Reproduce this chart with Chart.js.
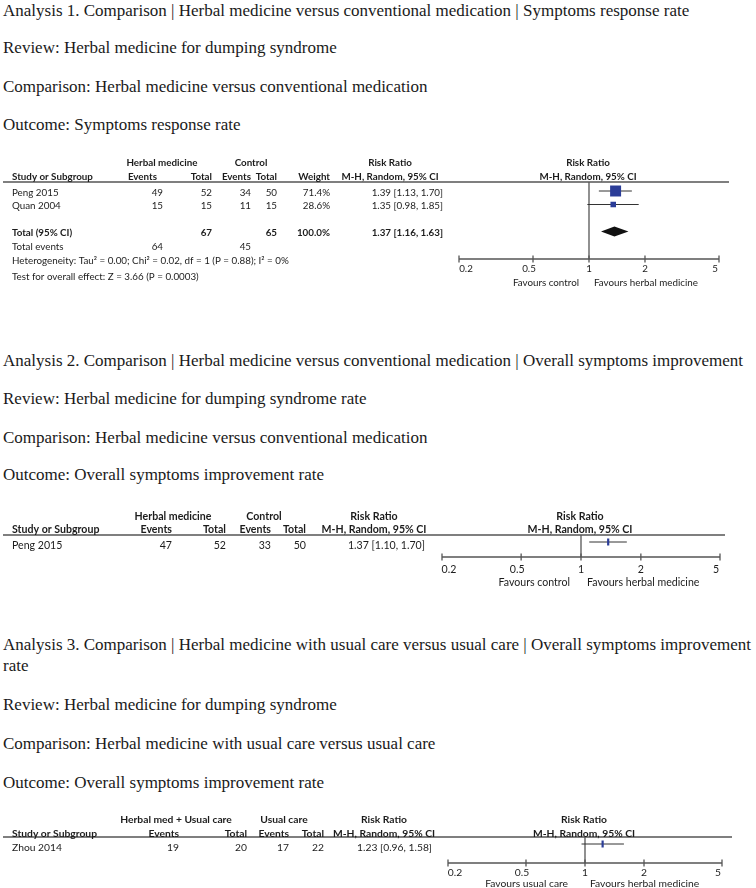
<!DOCTYPE html>
<html>
<head>
<meta charset="utf-8">
<title>Herbal medicine for dumping syndrome - forest plots</title>
<script src="https://cdn.jsdelivr.net/npm/chart.js@4.4.1/dist/chart.umd.min.js"></script>
<style>
  body { margin: 0; background: #fff; }
  #page { position: relative; width: 756px; height: 888px; overflow: hidden; }
  .t { position: absolute; left: 3px; font-family: "Liberation Serif", "Times New Roman", serif; font-size: 17px; line-height: 21px; color: #1a1a1a; white-space: nowrap; }
  canvas { position: absolute; left: 0; }
</style>
</head>
<body>
<div id="page">
  <div class="t" style="top:0px">Analysis 1. Comparison | Herbal medicine versus conventional medication | Symptoms response rate</div>
  <div class="t" style="top:37px">Review: Herbal medicine for dumping syndrome</div>
  <div class="t" style="top:76px">Comparison: Herbal medicine versus conventional medication</div>
  <div class="t" style="top:114px">Outcome: Symptoms response rate</div>
  <canvas id="c1" width="756" height="140" style="top:150px"></canvas>

  <div class="t" style="top:350px">Analysis 2. Comparison | Herbal medicine versus conventional medication | Overall symptoms improvement</div>
  <div class="t" style="top:388px">Review: Herbal medicine for dumping syndrome rate</div>
  <div class="t" style="top:427px">Comparison: Herbal medicine versus conventional medication</div>
  <div class="t" style="top:464px">Outcome: Overall symptoms improvement rate</div>
  <canvas id="c2" width="756" height="95" style="top:505px"></canvas>

  <div class="t" style="top:634px">Analysis 3. Comparison | Herbal medicine with usual care versus usual care | Overall symptoms improvement<br>rate</div>
  <div class="t" style="top:694px">Review: Herbal medicine for dumping syndrome</div>
  <div class="t" style="top:733px">Comparison: Herbal medicine with usual care versus usual care</div>
  <div class="t" style="top:772px">Outcome: Overall symptoms improvement rate</div>
  <canvas id="c3" width="756" height="82" style="top:806px"></canvas>
</div>

<script>
var tickValues = [0.2, 0.5, 1, 2, 5];
var tickLabels = ['0.2', '0.5', '1', '2', '5'];

// Analysis 1 - symptoms response rate
var studies1 = ['Peng 2015', 'Quan 2004'];
var expEvents1 = [49, 15];
var expTotal1 = [52, 15];
var ctlEvents1 = [34, 11];
var ctlTotal1 = [50, 15];
var weights1 = [71.4, 28.6];
var rr1 = [1.39, 1.35];
var lower1 = [1.13, 0.98];
var upper1 = [1.70, 1.85];
var pooled1 = [1.37, 1.16, 1.63];
var groupTotals1 = [67, 65];
var groupEvents1 = [64, 45];
var groups1 = ['Herbal medicine', 'Control'];
var favours1 = ['Favours control', 'Favours herbal medicine'];
var notes1 = ['Heterogeneity: Tau\u00b2 = 0.00; Chi\u00b2 = 0.02, df = 1 (P = 0.88); I\u00b2 = 0%',
              'Test for overall effect: Z = 3.66 (P = 0.0003)'];

// Analysis 2 - overall symptoms improvement
var studies2 = ['Peng 2015'];
var expEvents2 = [47];
var expTotal2 = [52];
var ctlEvents2 = [33];
var ctlTotal2 = [50];
var rr2 = [1.37];
var lower2 = [1.10];
var upper2 = [1.70];
var groups2 = ['Herbal medicine', 'Control'];
var favours2 = ['Favours control', 'Favours herbal medicine'];

// Analysis 3 - herbal medicine with usual care
var studies3 = ['Zhou 2014'];
var expEvents3 = [19];
var expTotal3 = [20];
var ctlEvents3 = [17];
var ctlTotal3 = [22];
var rr3 = [1.23];
var lower3 = [0.96];
var upper3 = [1.58];
var groups3 = ['Herbal med + Usual care', 'Usual care'];
var favours3 = ['Favours usual care', 'Favours herbal medicine'];

var blue = '#2b3d98';
var ink = '#1c1c1c';
var rule = '#555555';
var tickShift = [7, -4, 0, 0, -4];

function line(ctx, ax, ay, bx, by) {
  ctx.beginPath();
  ctx.moveTo(ax, ay);
  ctx.lineTo(bx, by);
  ctx.stroke();
}

function txt(ctx, s, x, y, align, bold, size) {
  ctx.font = (bold ? 'bold ' : '') + size + 'px Lato, "Noto Sans", sans-serif';
  ctx.textAlign = align;
  ctx.fillText(s, x, y);
}

function ci(r, lo, hi) {
  return r.toFixed(2) + ' [' + lo.toFixed(2) + ', ' + hi.toFixed(2) + ']';
}

function forestPlugin(sec, d) {
  return {
    id: 'forest_' + sec.canvas,
    beforeDatasetsDraw: function(chart) {
      var ctx = chart.ctx, x = chart.scales.x, T = sec.top;
      var px1 = x.getPixelForValue(1);
      ctx.save();
      ctx.strokeStyle = rule;
      ctx.lineWidth = 1.3;
      line(ctx, 3, sec.rule - T, sec.ruleEnd, sec.rule - T);
      line(ctx, px1, sec.rule - T, px1, sec.axis - T);
      line(ctx, x.getPixelForValue(tickValues[0]), sec.axis - T,
           x.getPixelForValue(tickValues[tickValues.length - 1]), sec.axis - T);
      tickValues.forEach(function(v) {
        var p = x.getPixelForValue(v);
        line(ctx, p, sec.axis - T - 3.5, p, sec.axis - T + 3.5);
      });
      ctx.restore();
    },
    afterDatasetsDraw: function(chart) {
      var ctx = chart.ctx, x = chart.scales.x, y = chart.scales.y, T = sec.top, f = sec.font;
      var n = d.studies.length;
      var px1 = x.getPixelForValue(1);
      ctx.save();

      // pooled diamond
      if (d.pooled) {
        var py = y.getPixelForValue(n + 1);
        ctx.fillStyle = '#111';
        ctx.beginPath();
        ctx.moveTo(x.getPixelForValue(d.pooled[1]), py);
        ctx.lineTo(x.getPixelForValue(d.pooled[0]), py - 5);
        ctx.lineTo(x.getPixelForValue(d.pooled[2]), py);
        ctx.lineTo(x.getPixelForValue(d.pooled[0]), py + 5);
        ctx.closePath();
        ctx.fill();
      }

      ctx.fillStyle = ink;
      ctx.textBaseline = 'middle';

      // headers
      txt(ctx, d.groups[0], sec.groupCx[0], sec.head1 - T, 'center', true, f);
      txt(ctx, d.groups[1], sec.groupCx[1], sec.head1 - T, 'center', true, f);
      txt(ctx, 'Risk Ratio', sec.rrHeadCx, sec.head1 - T, 'center', true, f);
      txt(ctx, 'Risk Ratio', px1 - 1, sec.head1 - T, 'center', true, f);
      txt(ctx, 'Study or Subgroup', sec.studyX, sec.head2 - T, 'left', true, f);
      txt(ctx, 'Events', sec.firstHeadRight || sec.cols[0], sec.head2 - T, 'right', true, f);
      txt(ctx, 'Total', sec.cols[1], sec.head2 - T, 'right', true, f);
      txt(ctx, 'Events', sec.cols[2], sec.head2 - T, 'right', true, f);
      txt(ctx, 'Total', sec.cols[3], sec.head2 - T, 'right', true, f);
      if (d.weights) txt(ctx, 'Weight', sec.cols[4], sec.head2 - T, 'right', true, f);
      txt(ctx, 'M-H, Random, 95% CI', sec.rrHeadCx, sec.head2 - T, 'center', true, f);
      txt(ctx, 'M-H, Random, 95% CI', px1 - 1, sec.head2 - T, 'center', true, f);

      // study rows
      for (var i = 0; i < n; i++) {
        var ty = y.getPixelForValue(i) + sec.textDy;
        txt(ctx, d.studies[i], sec.studyX, ty, 'left', false, f);
        txt(ctx, String(d.expEvents[i]), sec.cols[0], ty, 'right', false, f);
        txt(ctx, String(d.expTotal[i]), sec.cols[1], ty, 'right', false, f);
        txt(ctx, String(d.ctlEvents[i]), sec.cols[2], ty, 'right', false, f);
        txt(ctx, String(d.ctlTotal[i]), sec.cols[3], ty, 'right', false, f);
        if (d.weights) txt(ctx, d.weights[i].toFixed(1) + '%', sec.cols[4], ty, 'right', false, f);
        txt(ctx, ci(d.rr[i], d.lower[i], d.upper[i]), sec.rrRight, ty, 'right', false, f);
      }

      // totals
      if (d.pooled) {
        var ty2 = y.getPixelForValue(n + 1) + sec.textDy;
        txt(ctx, 'Total (95% CI)', sec.studyX, ty2, 'left', true, f);
        txt(ctx, String(d.groupTotals[0]), sec.cols[1], ty2, 'right', true, f);
        txt(ctx, String(d.groupTotals[1]), sec.cols[3], ty2, 'right', true, f);
        txt(ctx, '100.0%', sec.cols[4], ty2, 'right', true, f);
        txt(ctx, ci(d.pooled[0], d.pooled[1], d.pooled[2]), sec.rrRight, ty2, 'right', true, f);
        var ty3 = y.getPixelForValue(n + 2) + sec.textDy;
        txt(ctx, 'Total events', sec.studyX, ty3, 'left', false, f);
        txt(ctx, String(d.groupEvents[0]), sec.cols[0], ty3, 'right', false, f);
        txt(ctx, String(d.groupEvents[1]), sec.cols[2], ty3, 'right', false, f);
        txt(ctx, d.notes[0], sec.studyX, sec.notesY[0] - T, 'left', false, f);
        txt(ctx, d.notes[1], sec.studyX, sec.notesY[1] - T, 'left', false, f);
      }

      // axis labels
      tickValues.forEach(function(v, k) {
        txt(ctx, tickLabels[k], x.getPixelForValue(v) + tickShift[k], sec.tickY - T, 'center', false, f);
      });
      txt(ctx, d.favours[0], px1 - sec.favGap[0], sec.favY - T, 'right', false, f);
      txt(ctx, d.favours[1], px1 + sec.favGap[1], sec.favY - T, 'left', false, f);
      ctx.restore();
    }
  };
}

function drawForest(sec, d) {
  var rect = sec.marker === 'rect';
  var markers = {
    data: d.studies.map(function(s, i) { return {x: d.rr[i], y: i}; }),
    showLine: false,
    pointStyle: rect ? 'rect' : 'line',
    pointRotation: rect ? 0 : 90,
    pointRadius: d.studies.map(function(s, i) {
      return rect ? 0.447 * Math.pow(d.weights[i], 0.75) / Math.SQRT2 : 3.5;
    }),
    pointBackgroundColor: blue,
    pointBorderColor: blue,
    pointBorderWidth: rect ? 0 : 2.2
  };
  var ciLines = d.studies.map(function(s, i) {
    return {
      data: [{x: d.lower[i], y: i}, {x: d.upper[i], y: i}],
      showLine: true,
      borderColor: '#333333',
      borderWidth: 1,
      pointRadius: 0
    };
  });
  var padTop = sec.rule - sec.top;
  var padBottom = sec.top + sec.height - sec.axis;
  new Chart(document.getElementById(sec.canvas), {
    type: 'scatter',
    data: { datasets: [markers].concat(ciLines) },
    options: {
      responsive: false,
      animation: false,
      events: [],
      layout: { padding: { left: sec.x0, right: 756 - sec.x1, top: padTop, bottom: padBottom } },
      scales: {
        x: { type: 'logarithmic', min: tickValues[0], max: tickValues[tickValues.length - 1], bounds: 'data', display: false },
        y: { type: 'linear', reverse: true, bounds: 'data', display: false,
             min: -(sec.row0 - sec.rule) / sec.rowH, max: (sec.axis - sec.row0) / sec.rowH }
      },
      plugins: { legend: { display: false }, tooltip: { enabled: false } }
    },
    plugins: [forestPlugin(sec, d)]
  });
}

drawForest({
  canvas: 'c1', top: 150, height: 140, font: 9.8,
  head1: 163, head2: 177, rule: 182, ruleEnd: 729,
  row0: 191, rowH: 13.5, textDy: 1.5,
  studyX: 12, cols: [163, 212, 251, 277, 330], firstHeadRight: 157,
  groupCx: [162, 251], rrRight: 443, rrHeadCx: 390,
  x0: 459, x1: 719, axis: 259, tickY: 269, favY: 283, favGap: [10, 5],
  notesY: [261, 277], marker: 'rect'
}, {
  studies: studies1, expEvents: expEvents1, expTotal: expTotal1, ctlEvents: ctlEvents1,
  ctlTotal: ctlTotal1, weights: weights1, rr: rr1, lower: lower1, upper: upper1,
  pooled: pooled1, groupTotals: groupTotals1, groupEvents: groupEvents1,
  groups: groups1, favours: favours1, notes: notes1
});

drawForest({
  canvas: 'c2', top: 505, height: 95, font: 10.6,
  head1: 517, head2: 530, rule: 535, ruleEnd: 725,
  row0: 542, rowH: 13.5, textDy: 4,
  studyX: 12, cols: [172, 226, 271, 306],
  groupCx: [173, 264], rrRight: 425, rrHeadCx: 374,
  x0: 442, x1: 720, axis: 557, tickY: 570, favY: 583, favGap: [11, 6],
  marker: 'line'
}, {
  studies: studies2, expEvents: expEvents2, expTotal: expTotal2, ctlEvents: ctlEvents2,
  ctlTotal: ctlTotal2, rr: rr2, lower: lower2, upper: upper2,
  groups: groups2, favours: favours2
});

drawForest({
  canvas: 'c3', top: 806, height: 82, font: 10.3,
  head1: 820, head2: 834, rule: 837, ruleEnd: 732,
  row0: 844, rowH: 13.5, textDy: 4,
  studyX: 12, cols: [179, 247, 289, 324],
  groupCx: [176, 284], rrRight: 432, rrHeadCx: 384,
  x0: 448, x1: 722, axis: 863, tickY: 873, favY: 884, favGap: [17, 5],
  marker: 'line'
}, {
  studies: studies3, expEvents: expEvents3, expTotal: expTotal3, ctlEvents: ctlEvents3,
  ctlTotal: ctlTotal3, rr: rr3, lower: lower3, upper: upper3,
  groups: groups3, favours: favours3
});
</script>
</body>
</html>
